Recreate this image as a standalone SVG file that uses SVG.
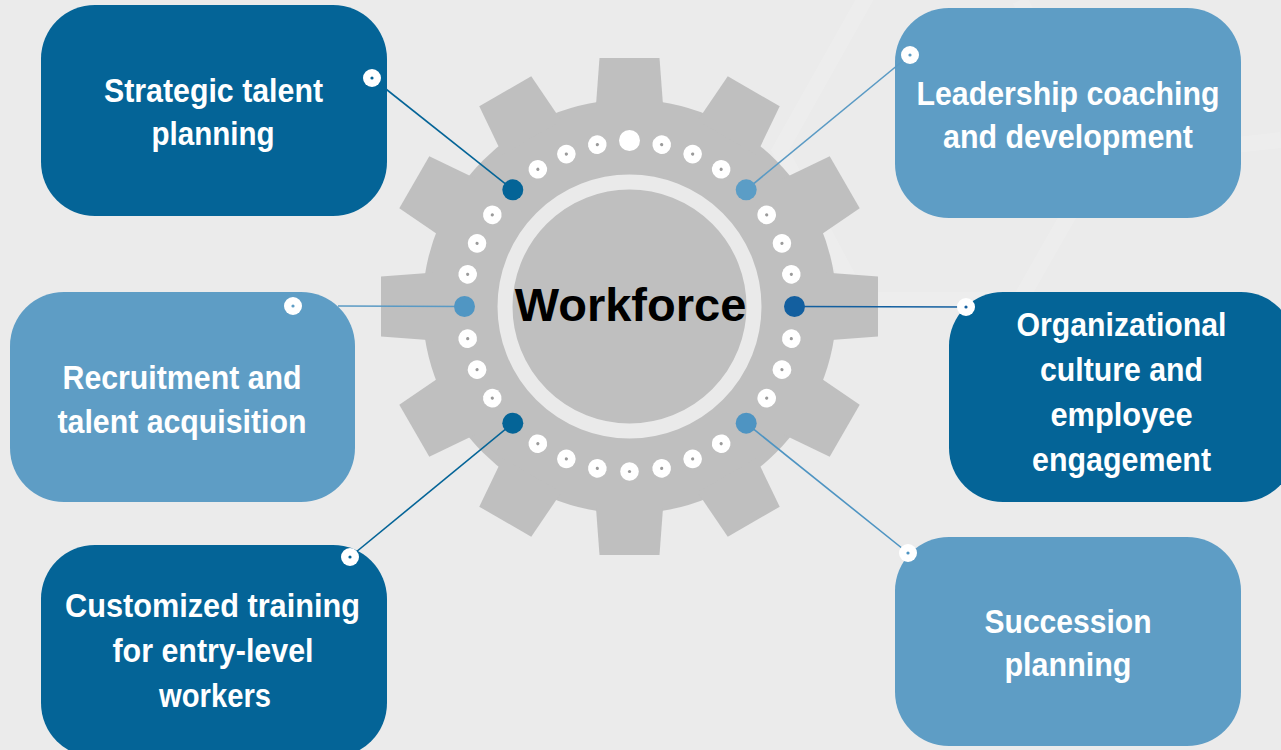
<svg xmlns="http://www.w3.org/2000/svg" xmlns:xlink="http://www.w3.org/1999/xlink" width="1281" height="750" viewBox="0 0 1281 750">
  <style>
    .dark { fill: #046497; }
    .light { fill: #5E9DC5; }
    .lbl { font-family: "Liberation Sans", Arial, sans-serif; font-weight: bold; font-size: 34px; fill: #ffffff; text-anchor: middle; }
    .title { font-family: "Liberation Sans", Arial, sans-serif; font-weight: bold; font-size: 47px; fill: #000000; text-anchor: middle; }
    .ldark { stroke: #046497; stroke-width: 1.6; fill: none; }
    .llight { stroke: #5A9AC4; stroke-width: 1.6; fill: none; }
    .band { fill: none; stroke: #ffffff; stroke-opacity: 0.3; stroke-width: 16; }
  </style>
  <defs>
    <polygon id="tooth" points="195,-34 248.5,-30 248.5,30 195,34" fill="#BFBFBF"/>
    <g id="wdot"><circle r="9.3" fill="#ffffff"/><circle r="1.6" fill="#9a9a9a"/></g>
  </defs>

  <!-- background -->
  <rect x="0" y="0" width="1281" height="750" fill="#EBEBEB"/>
  <g opacity="0.45">
    <polyline class="band" points="870,-10 780,150 860,300 1020,300"/>
    <polyline class="band" points="1020,300 1100,160 1281,140"/>
    <polyline class="band" points="1100,160 1020,0"/>
  </g>

  <!-- gear -->
  <g id="gear" transform="translate(629.5 306.5)">
    <circle r="207" fill="#BFBFBF"/>
    <use xlink:href="#tooth" transform="rotate(0)"/>
    <use xlink:href="#tooth" transform="rotate(30)"/>
    <use xlink:href="#tooth" transform="rotate(60)"/>
    <use xlink:href="#tooth" transform="rotate(90)"/>
    <use xlink:href="#tooth" transform="rotate(120)"/>
    <use xlink:href="#tooth" transform="rotate(150)"/>
    <use xlink:href="#tooth" transform="rotate(180)"/>
    <use xlink:href="#tooth" transform="rotate(210)"/>
    <use xlink:href="#tooth" transform="rotate(240)"/>
    <use xlink:href="#tooth" transform="rotate(270)"/>
    <use xlink:href="#tooth" transform="rotate(300)"/>
    <use xlink:href="#tooth" transform="rotate(330)"/>
    <circle r="124.5" fill="none" stroke="#EAEAEA" stroke-width="15"/>
    <g>
      <use xlink:href="#wdot" transform="rotate(11.25) translate(165 0)"/>
      <use xlink:href="#wdot" transform="rotate(22.5) translate(165 0)"/>
      <use xlink:href="#wdot" transform="rotate(33.75) translate(165 0)"/>
      <use xlink:href="#wdot" transform="rotate(56.25) translate(165 0)"/>
      <use xlink:href="#wdot" transform="rotate(67.5) translate(165 0)"/>
      <use xlink:href="#wdot" transform="rotate(78.75) translate(165 0)"/>
      <use xlink:href="#wdot" transform="rotate(90) translate(165 0)"/>
      <use xlink:href="#wdot" transform="rotate(101.25) translate(165 0)"/>
      <use xlink:href="#wdot" transform="rotate(112.5) translate(165 0)"/>
      <use xlink:href="#wdot" transform="rotate(123.75) translate(165 0)"/>
      <use xlink:href="#wdot" transform="rotate(146.25) translate(165 0)"/>
      <use xlink:href="#wdot" transform="rotate(157.5) translate(165 0)"/>
      <use xlink:href="#wdot" transform="rotate(168.75) translate(165 0)"/>
      <use xlink:href="#wdot" transform="rotate(191.25) translate(165 0)"/>
      <use xlink:href="#wdot" transform="rotate(202.5) translate(165 0)"/>
      <use xlink:href="#wdot" transform="rotate(213.75) translate(165 0)"/>
      <use xlink:href="#wdot" transform="rotate(236.25) translate(165 0)"/>
      <use xlink:href="#wdot" transform="rotate(247.5) translate(165 0)"/>
      <use xlink:href="#wdot" transform="rotate(258.75) translate(165 0)"/>
      <use xlink:href="#wdot" transform="rotate(281.25) translate(165 0)"/>
      <use xlink:href="#wdot" transform="rotate(292.5) translate(165 0)"/>
      <use xlink:href="#wdot" transform="rotate(303.75) translate(165 0)"/>
      <use xlink:href="#wdot" transform="rotate(326.25) translate(165 0)"/>
      <use xlink:href="#wdot" transform="rotate(337.5) translate(165 0)"/>
      <use xlink:href="#wdot" transform="rotate(348.75) translate(165 0)"/>
      <circle cx="0" cy="-166" r="10.5" fill="#ffffff"/>
    </g>
  </g>

  <!-- center label -->
  <g id="center">
    <text class="title" x="630.5" y="321">Workforce</text>
  </g>

  <!-- nodes -->
  <g id="node-strategic">
    <rect class="dark" x="41" y="5" width="346" height="211" rx="54" ry="54"/>
    <text class="lbl" x="213.5" y="102" textLength="219" lengthAdjust="spacingAndGlyphs">Strategic talent</text>
    <text class="lbl" x="213" y="145" textLength="123" lengthAdjust="spacingAndGlyphs">planning</text>
  </g>
  <g id="node-recruitment">
    <rect class="light" x="10" y="292" width="345" height="210" rx="54" ry="54"/>
    <text class="lbl" x="182" y="389" textLength="239" lengthAdjust="spacingAndGlyphs">Recruitment and</text>
    <text class="lbl" x="182" y="433" textLength="249" lengthAdjust="spacingAndGlyphs">talent acquisition</text>
  </g>
  <g id="node-customized">
    <rect class="dark" x="41" y="545" width="346" height="212" rx="54" ry="54"/>
    <text class="lbl" x="212.5" y="617" textLength="295" lengthAdjust="spacingAndGlyphs">Customized training</text>
    <text class="lbl" x="213" y="662" textLength="201" lengthAdjust="spacingAndGlyphs">for entry-level</text>
    <text class="lbl" x="215" y="707" textLength="112" lengthAdjust="spacingAndGlyphs">workers</text>
  </g>
  <g id="node-leadership">
    <rect class="light" x="895" y="8" width="346" height="210" rx="54" ry="54"/>
    <text class="lbl" x="1068" y="105" textLength="303" lengthAdjust="spacingAndGlyphs">Leadership coaching</text>
    <text class="lbl" x="1068" y="148" textLength="250" lengthAdjust="spacingAndGlyphs">and development</text>
  </g>
  <g id="node-culture">
    <rect class="dark" x="949" y="292" width="346" height="210" rx="54" ry="54"/>
    <text class="lbl" x="1121.5" y="336" textLength="210" lengthAdjust="spacingAndGlyphs">Organizational</text>
    <text class="lbl" x="1121.5" y="381" textLength="163" lengthAdjust="spacingAndGlyphs">culture and</text>
    <text class="lbl" x="1121.5" y="426" textLength="142" lengthAdjust="spacingAndGlyphs">employee</text>
    <text class="lbl" x="1121.5" y="471" textLength="179" lengthAdjust="spacingAndGlyphs">engagement</text>
  </g>
  <g id="node-succession">
    <rect class="light" x="895" y="537" width="346" height="209" rx="54" ry="54"/>
    <text class="lbl" x="1068" y="633" textLength="167" lengthAdjust="spacingAndGlyphs">Succession</text>
    <text class="lbl" x="1068" y="676" textLength="127" lengthAdjust="spacingAndGlyphs">planning</text>
  </g>

  <!-- connectors -->
  <g id="connectors">
    <line class="ldark" x1="372" y1="78" x2="512.8" y2="189.8"/>
    <line class="llight" x1="338" y1="306" x2="464.5" y2="306.5"/>
    <line class="ldark" x1="350" y1="557" x2="512.8" y2="423.2"/>
    <line class="llight" x1="910" y1="55" x2="746.2" y2="189.8"/>
    <line class="ldark" x1="966" y1="307" x2="794.5" y2="306.5" style="stroke:#135F9F"/>
    <line class="llight" x1="908" y1="553" x2="746.2" y2="423.2" style="stroke:#4E94C2"/>

    <circle cx="512.8" cy="189.8" r="10.5" fill="#046497"/>
    <circle cx="464.5" cy="306.5" r="10.5" fill="#5096C3"/>
    <circle cx="512.8" cy="423.2" r="10.5" fill="#046497"/>
    <circle cx="746.2" cy="189.8" r="10.5" fill="#5B9DC6"/>
    <circle cx="794.5" cy="306.5" r="10.5" fill="#135F9F"/>
    <circle cx="746.2" cy="423.2" r="10.5" fill="#4E94C2"/>

    <circle cx="372" cy="78" r="9" fill="#ffffff"/><circle cx="372" cy="78" r="1.6" fill="#046497"/>
    <circle cx="293" cy="306" r="9" fill="#ffffff"/><circle cx="293" cy="306" r="1.6" fill="#5E9DC5"/>
    <circle cx="350" cy="557" r="9" fill="#ffffff"/><circle cx="350" cy="557" r="1.6" fill="#046497"/>
    <circle cx="910" cy="55" r="9" fill="#ffffff"/><circle cx="910" cy="55" r="1.6" fill="#5E9DC5"/>
    <circle cx="966" cy="307" r="9" fill="#ffffff"/><circle cx="966" cy="307" r="1.6" fill="#135F9F"/>
    <circle cx="908" cy="553" r="9" fill="#ffffff"/><circle cx="908" cy="553" r="1.6" fill="#4E94C2"/>
  </g>
</svg>
